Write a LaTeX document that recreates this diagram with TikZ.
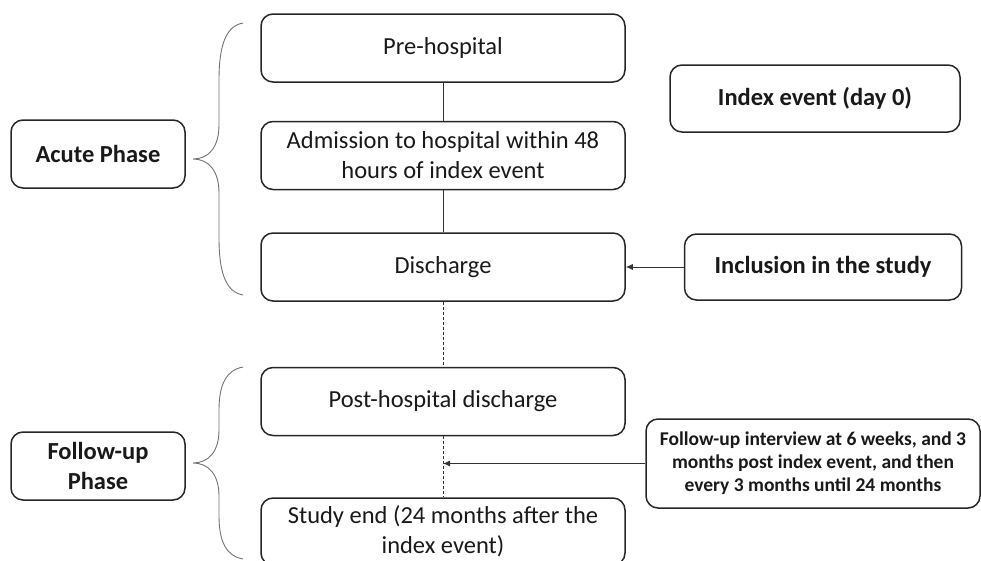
\documentclass[tikz,border=0pt]{standalone}
\usepackage{fontspec}
\setmainfont{Carlito}
\usetikzlibrary{arrows.meta,calc,positioning}
\tikzset{
flow/.style={x=1pt,y=-1pt,>={Latex[length=7pt,width=6pt]},
    node distance=40pt},
stage/.style={rectangle,rounded corners=12pt,draw=black!85,line width=1.5pt,
    minimum width=364pt,minimum height=68pt,inner sep=0pt,align=center,
    text=black!90,font=\fontsize{24.5}{30}\selectfont},
phase/.style={stage,minimum width=174pt,font=\fontsize{24.5}{30}\selectfont\bfseries},
event/.style={stage,font=\fontsize{24.5}{30}\selectfont\bfseries},
link/.style={draw=black!80,line width=0.9pt},
gap/.style={link,dash pattern=on 3pt off 2pt},
brace line/.style={draw=black!55,line width=0.9pt},
}
\begin{document}
\begin{tikzpicture}[flow]
    \useasboundingbox (0,0) rectangle (981,560);

    % main column
    \node[stage] (pre) at (443,48) {Pre-hospital};
    \node[stage] (adm) [below=38pt of pre] {Admission to hospital within 48\\hours of index event};
    \node[stage] (dis) [below=42pt of adm] {Discharge};
    \node[stage] (post) [below=65pt of dis] {Post-hospital discharge};
    \node[stage,minimum height=67pt] (study) [below=61pt of post] {Study end (24 months after the\\index event)};

    % phases
    \node[phase] (acute) at (98,154) {Acute Phase};
    \node[phase] (follow) at (98,466) {Follow-up\\Phase};

    % events on the right
    \node[event,minimum width=290pt,minimum height=67pt] (index) at (815,98.5) {Index event (day 0)};
    \node[event,minimum width=277pt,minimum height=66pt] (incl) [right=58pt of dis] {Inclusion in the study};
    \node[event,minimum width=334pt,minimum height=89pt,
        font=\fontsize{19.5}{23}\selectfont\bfseries] (interview) at (813,463.5)
        {Follow-up interview at 6 weeks, and 3\\months post index event, and then\\every 3 months until 24 months};
    \coordinate (visit) at (post.south |- interview.west);

    \path[link]
        (pre) edge (adm)
        (adm) edge (dis)
    ;
    \path[gap]
        (dis) edge (post)
        (post) edge (study)
    ;
    \draw[link,->] (incl.west) -- (dis.east);
    \draw[link,->] (interview.west) -- (visit);

    % braces
    \draw[brace line] (243,23) .. controls (226,26) and (219,45) .. (219,80) -- (219,125)
        .. controls (219,148) and (208,159) .. (193,159)
        .. controls (208,159) and (219,170) .. (219,193) -- (219,238)
        .. controls (219,273) and (226,292) .. (243,295);
    \draw[brace line] (243,367) .. controls (226,370) and (219,385) .. (219,410) -- (219,430)
        .. controls (219,452) and (208,463) .. (193,463)
        .. controls (208,463) and (219,474) .. (219,496) -- (219,516)
        .. controls (219,541) and (226,556) .. (243,559);
\end{tikzpicture}
\end{document}
